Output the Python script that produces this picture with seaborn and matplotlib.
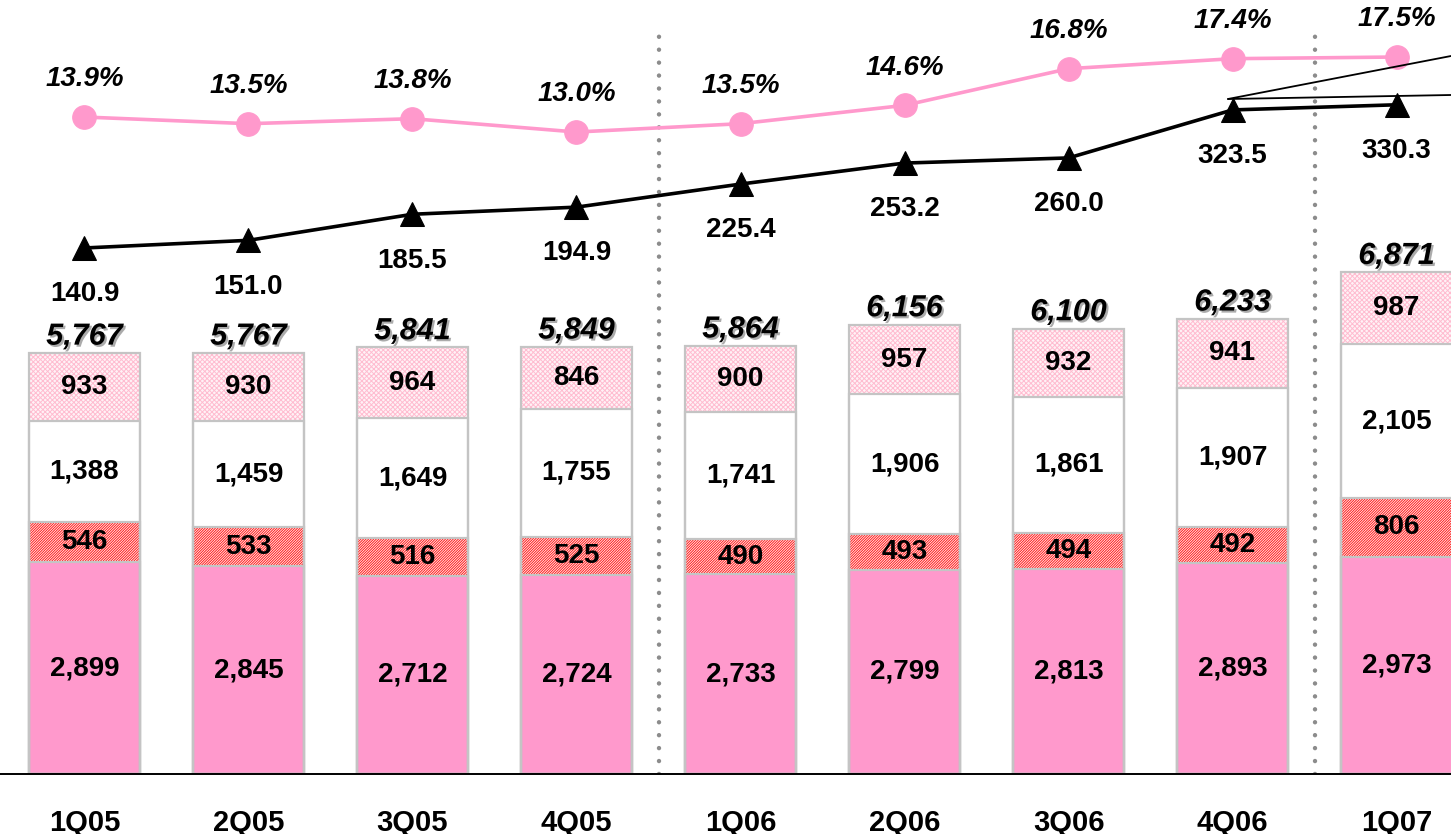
import numpy as np
import pandas as pd
import matplotlib
matplotlib.use("Agg")
import matplotlib.pyplot as plt
import matplotlib.patheffects as pe
import seaborn as sns

quarters = ["1Q05", "2Q05", "3Q05", "4Q05", "1Q06", "2Q06", "3Q06", "4Q06", "1Q07"]
seg_bottom = [2899, 2845, 2712, 2724, 2733, 2799, 2813, 2893, 2973]
seg_hatched = [546, 533, 516, 525, 490, 493, 494, 492, 806]
seg_white = [1388, 1459, 1649, 1755, 1741, 1906, 1861, 1907, 2105]
seg_top = [933, 930, 964, 846, 900, 957, 932, 941, 987]
totals = [5767, 5767, 5841, 5849, 5864, 6156, 6100, 6233, 6871]
income = [140.9, 151.0, 185.5, 194.9, 225.4, 253.2, 260.0, 323.5, 330.3]
margin = [13.9, 13.5, 13.8, 13.0, 13.5, 14.6, 16.8, 17.4, 17.5]

sns.set_style("white")
plt.rcParams["font.family"] = ["Liberation Sans", "DejaVu Sans"]
plt.rcParams["text.color"] = "black"
plt.rcParams["xtick.color"] = "black"
plt.rcParams["xtick.labelcolor"] = "black"
plt.rcParams["hatch.linewidth"] = 0.7

PINK = "#ff99cc"
EDGE = "#c4c4c4"

df = pd.DataFrame({
    "quarter": quarters,
    "bottom": seg_bottom,
    "hatched": seg_hatched,
    "white": seg_white,
    "top": seg_top,
})
df["c1"] = df["bottom"]
df["c2"] = df["c1"] + df["hatched"]
df["c3"] = df["c2"] + df["white"]
df["c4"] = df["c3"] + df["top"]

fig = plt.figure(figsize=(14.51, 8.34), dpi=100)
ax = fig.add_axes([0, 60 / 834, 1, 774 / 834])

W = 0.68
# stacked bars drawn as overlapping cumulative bars, tallest first
layers = [
    ("c4", "#fff2f6", "#ffbcd0", "xxxxxxx"),
    ("c3", "white", "white", None),
    ("c2", "#fff4f4", "#ff1a1a", "/" * 13),
    ("c1", PINK, PINK, None),
]
for col, face, hcol, hatch in layers:
    sns.barplot(data=df, x="quarter", y=col, color=face, saturation=1,
                width=W, errorbar=None, edgecolor=hcol, linewidth=0,
                hatch=hatch, ax=ax)
for col in ["c4", "c3", "c2", "c1"]:
    sns.barplot(data=df, x="quarter", y=col, fill=False, width=W,
                errorbar=None, edgecolor=EDGE, linewidth=1.6, ax=ax)

ax.set_ylim(0, 10600)
ax.set_xlim(-0.515, 8.332)
ax.set_xlabel("")
ax.set_ylabel("")
ax.set_yticks([])
for s in ["left", "right", "top"]:
    ax.spines[s].set_visible(False)
ax.spines["bottom"].set_color("black")
ax.spines["bottom"].set_linewidth(1.4)
ax.tick_params(axis="x", length=0, pad=25)
for t in ax.get_xticklabels():
    t.set_fontsize(21)
    t.set_fontweight("bold")
    t.set_color("black")

# segment labels
for i in range(len(quarters)):
    for lo, hi, val in [(0, df.c1[i], seg_bottom[i]),
                        (df.c1[i], df.c2[i], seg_hatched[i]),
                        (df.c2[i], df.c3[i], seg_white[i]),
                        (df.c3[i], df.c4[i], seg_top[i])]:
        ax.text(i, (lo + hi) / 2, f"{val:,}", ha="center", va="center",
                fontsize=20, fontweight="bold", color="black")
    ax.annotate(f"{totals[i]:,}", (i, df.c4[i]), xytext=(0, 6),
                textcoords="offset points", ha="center", va="baseline",
                fontsize=22, fontweight="bold", fontstyle="italic", color="black",
                path_effects=[pe.withSimplePatchShadow(offset=(1.5, -1.5),
                                                       shadow_rgbFace="#888888",
                                                       alpha=0.7)])

# separators
for xs in [3.5, 7.5]:
    ax.axvline(xs, ymin=0, ymax=0.961, color="#8c8c8c", lw=3.2,
               linestyle=(0, (0.01, 2.9)), dash_capstyle="round", zorder=1)

# income line
ax2 = ax.twinx()
sns.lineplot(x=np.arange(len(quarters)), y=income, ax=ax2, color="black",
             lw=2.6, marker="^", markersize=17, markeredgecolor="black")
ax2.set_ylim(-554.9, 468.9)
for i, v in enumerate(income):
    ax2.annotate(f"{v:.1f}", (i, v), xytext=(0, -24), textcoords="offset points",
                 ha="center", va="top", fontsize=20, fontweight="bold",
                 color="black")

# margin line
ax3 = ax.twinx()
sns.lineplot(x=np.arange(len(quarters)), y=margin, ax=ax3, color=PINK,
             lw=2.6, marker="o", markersize=17, markeredgecolor=PINK)
ax3.set_ylim(-25.51, 20.92)
for i, v in enumerate(margin):
    ax3.annotate(f"{v:.1f}%", (i, v), xytext=(0, 22), textcoords="offset points",
                 ha="center", va="baseline", fontsize=20, fontweight="bold",
                 fontstyle="italic", color="black")

for a in (ax2, ax3):
    a.set_yticks([])
    a.set_ylabel("")
    a.set_xlim(-0.515, 8.332)
    for s in a.spines.values():
        s.set_visible(False)

# callout lines leaving the frame at top right
fig.add_artist(plt.Line2D([1228 / 1451, 1.0], [1 - 99 / 834, 1 - 56 / 834],
                          color="black", lw=1.3))
fig.add_artist(plt.Line2D([1228 / 1451, 1.0], [1 - 99 / 834, 1 - 95 / 834],
                          color="black", lw=1.3))

fig.savefig("out.png", dpi=100)
